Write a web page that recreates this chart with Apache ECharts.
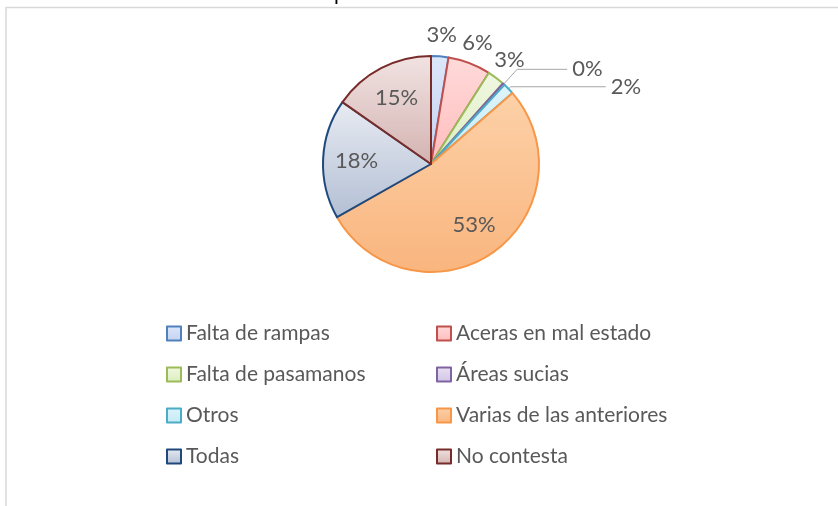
<!DOCTYPE html>
<html>
<head>
<meta charset="utf-8">
<script src="https://cdn.jsdelivr.net/npm/echarts@6/dist/echarts.min.js"></script>
<style>
  html, body { margin: 0; padding: 0; background: #fff; }
  #chart { width: 838px; height: 506px; }
</style>
</head>
<body>
<div id="chart"></div>
<script>
// datos del gráfico
const categories = ['Falta de rampas', 'Aceras en mal estado', 'Falta de pasamanos', 'Áreas sucias',
  'Otros', 'Varias de las anteriores', 'Todas', 'No contesta'];
const values = [2.6, 6.4, 2.6, 0.3, 1.7, 53.2, 17.9, 15.3];

// colores estilo Office
const borderColors = ['#4f81bd', '#c0504d', '#9bbb59', '#8064a2', '#4bacc6', '#f79646', '#1f497d', '#772c2a'];
const fillTop = ['#dde7fa', '#ffdada', '#f0f8e2', '#e8e0f3', '#def4fb', '#fdd1a8', '#e8ebf2', '#f1e3e2'];
const fillBottom = ['#c3d3f0', '#ffbcbc', '#dcedbf', '#d2c5e6', '#c3eaf6', '#f9b57e', '#b3bfd4', '#d3b3b1'];

const CX = 431, CY = 164, R = 108;
const insideIdx = [5, 6, 7];
const aroundIdx = [0, 1, 2];

const chart = echarts.init(document.getElementById('chart'));

const data = values.map((v, i) => {
  const item = {
    name: categories[i],
    value: v,
    itemStyle: {
      color: new echarts.graphic.LinearGradient(0, 0, 0, 1, [
        {offset: 0, color: fillTop[i]},
        {offset: 1, color: fillBottom[i]}
      ]),
      borderColor: borderColors[i],
      borderWidth: 2
    }
  };
  if (insideIdx.includes(i) || aroundIdx.includes(i)) {
    item.label = {position: 'inside'};
    item.labelLine = {show: false};
  } else if (i === 3) {
    item.label = {position: 'outside'};
    item.labelLine = {show: true, length: 20, length2: 50};
  } else {
    item.label = {position: 'outside'};
    item.labelLine = {show: true, length: 3, length2: 95};
  }
  return item;
});

const option = {
  animation: false,
  title: {
    text: 'Gráfico 6 Faltantes en la movilidad peatonal',
    left: 8,
    top: -22,
    textStyle: {fontFamily: 'Lato', fontSize: 21, fontWeight: 'normal', color: '#000'}
  },
  graphic: [{
    type: 'rect',
    shape: {x: 6, y: 7.5, width: 840, height: 520},
    style: {fill: 'none', stroke: '#d9d9d9', lineWidth: 1.5},
    silent: true
  }],
  legend: {
    left: 161,
    top: 316,
    width: 560,
    itemWidth: 14,
    itemHeight: 14,
    itemGap: 16,
    icon: 'rect',
    selectedMode: false,
    data: categories,
    textStyle: {fontFamily: 'Lato', fontSize: 21, color: '#595959', width: 234, lineHeight: 25}
  },
  series: [{
    type: 'pie',
    center: [CX, CY],
    radius: R,
    startAngle: 90,
    clockwise: true,
    avoidLabelOverlap: false,
    emphasis: {disabled: true},
    label: {
      show: true,
      formatter: p => Math.round(p.value) + '%',
      fontFamily: 'Lato',
      fontSize: 22,
      color: '#595959'
    },
    labelLine: {lineStyle: {color: '#a6a6a6', width: 1}, smooth: false},
    labelLayout: function (p) {
      const i = p.dataIndex;
      let target;
      if (insideIdx.includes(i)) target = R * 0.69;
      else if (aroundIdx.includes(i)) target = R + 22;
      else return {};
      const lr = p.labelRect;
      const vx = lr.x + lr.width / 2 - CX;
      const vy = lr.y + lr.height / 2 - CY;
      const d = Math.hypot(vx, vy) || 1;
      return {dx: vx / d * target - vx, dy: vy / d * target - vy};
    },
    data: data
  }]
};

chart.setOption(option);
</script>
</body>
</html>
